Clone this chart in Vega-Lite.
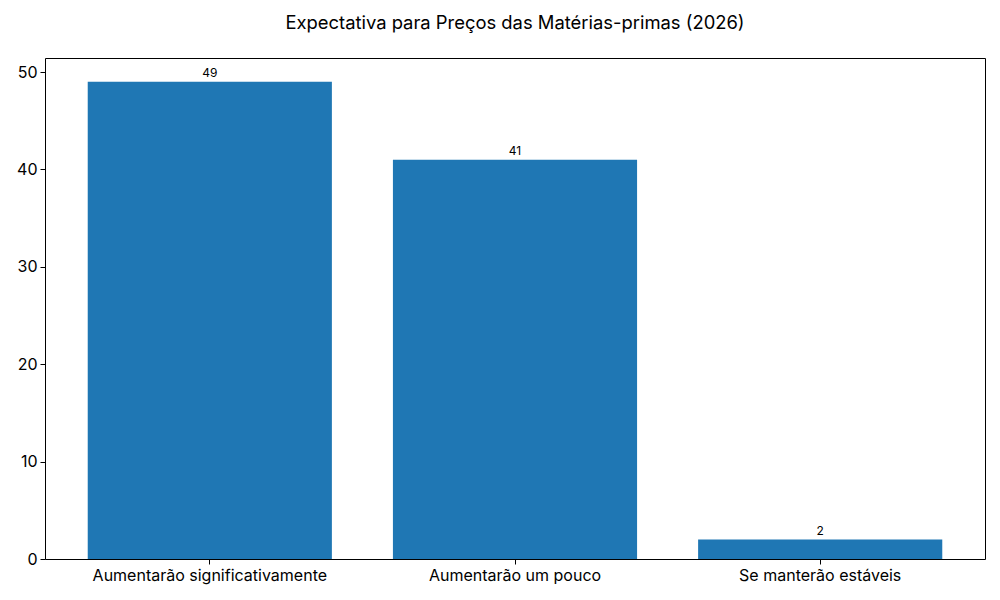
{
  "$schema": "https://vega.github.io/schema/vega-lite/v6.json",
  "width": 940,
  "height": 501,
  "autosize": {"type": "none"},
  "padding": {"left": 45, "top": 58, "right": 15, "bottom": 41},
  "background": "white",
  "title": {
    "text": "Expectativa para Preços das Matérias-primas (2026)",
    "font": "Inter",
    "fontSize": 18.4,
    "fontWeight": "normal",
    "color": "black",
    "baseline": "alphabetic",
    "offset": 11
  },
  "config": {
    "view": {"stroke": "black", "strokeWidth": 1},
    "axis": {
      "labelFont": "Inter",
      "labelFontSize": 16,
      "labelColor": "black",
      "labelLimit": 0,
      "tickColor": "black",
      "tickSize": 5,
      "domain": false,
      "grid": false,
      "title": null,
      "labelPadding": 3
    }
  },
  "data": {
    "values": [
      {"resposta": "Aumentarão significativamente", "n": 49},
      {"resposta": "Aumentarão um pouco", "n": 41},
      {"resposta": "Se manterão estáveis", "n": 2}
    ]
  },
  "encoding": {
    "x": {
      "field": "resposta",
      "type": "nominal",
      "sort": null,
      "scale": {"paddingInner": 0.2, "paddingOuter": 0.14},
      "axis": {"labelAngle": 0}
    },
    "y": {
      "field": "n",
      "type": "quantitative",
      "scale": {"domain": [0, 51.45], "nice": false, "zero": true},
      "axis": {"values": [0, 10, 20, 30, 40, 50]}
    }
  },
  "layer": [
    {"mark": {"type": "bar", "color": "#1f77b4"}},
    {
      "mark": {
        "type": "text",
        "baseline": "bottom",
        "dy": -2,
        "font": "Inter",
        "fontSize": 12,
        "color": "black"
      },
      "encoding": {"text": {"field": "n", "type": "quantitative"}}
    }
  ]
}
